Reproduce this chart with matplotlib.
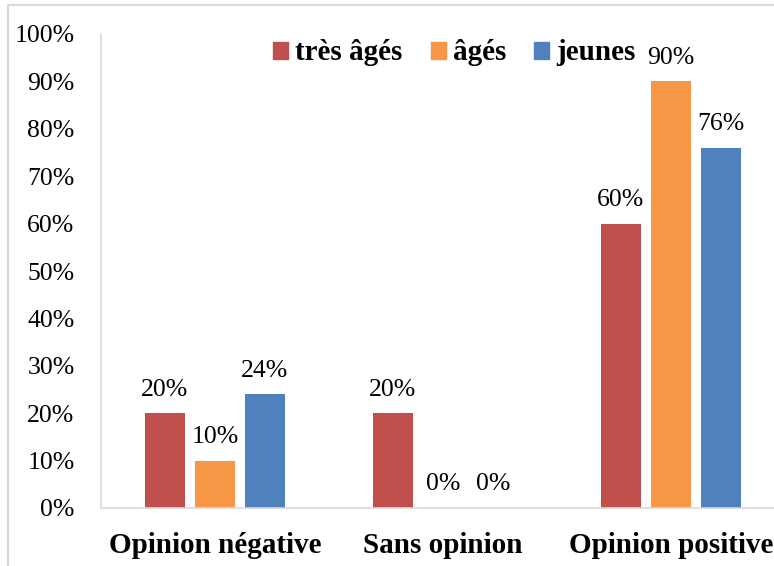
import matplotlib
matplotlib.use("Agg")
import matplotlib.pyplot as plt
import matplotlib.patches as mpatches
import numpy as np

categories = ["Opinion négative", "Sans opinion", "Opinion positive"]
series_names = ["très âgés", "âgés", "jeunes"]
tres_ages = [20, 20, 60]
ages = [10, 0, 90]
jeunes = [24, 0, 76]
series_values = [tres_ages, ages, jeunes]
colors = ["#C0504D", "#F79646", "#4F81BD"]
yticks = [0, 10, 20, 30, 40, 50, 60, 70, 80, 90, 100]
ytick_labels = [f"{v}%" for v in yticks]

plt.rcParams['font.family'] = ['Liberation Serif', 'DejaVu Serif']

W, H = 774, 566
fig = plt.figure(figsize=(W / 100, H / 100), dpi=100)
left_px, right_px, y0_px, y100_px = 101, 774, 508, 34
ax = fig.add_axes([left_px / W, 1 - y0_px / H, (right_px - left_px) / W, (y0_px - y100_px) / H])

cat_w = 228.0
xmax = -0.5 + (right_px - left_px) / cat_w
bar_w = 40 / cat_w
step = 50 / cat_w
x = np.arange(len(categories))

for i, (name, vals, c) in enumerate(zip(series_names, series_values, colors)):
    pos = x + (i - 1) * step
    ax.bar(pos, vals, width=bar_w, color=c, label=name)
    for xp, v in zip(pos, vals):
        ax.annotate(f"{v}%", (xp, v), xytext=(0, 9), textcoords="offset points",
                    ha="center", va="bottom", fontsize=18.5, color="#000000")

ax.set_xlim(-0.5, xmax)
ax.set_ylim(0, 100)
ax.set_yticks(yticks)
ax.set_yticklabels(ytick_labels, fontsize=18.5)
ax.set_xticks(x)
ax.set_xticklabels(categories, fontsize=21, fontweight="bold")
ax.tick_params(axis="y", length=0, pad=19)
ax.tick_params(axis="x", length=0, pad=17)
for s in ["top", "right"]:
    ax.spines[s].set_visible(False)
for s in ["left", "bottom"]:
    ax.spines[s].set_color("#d9d9d9")
    ax.spines[s].set_linewidth(1.2)

handles = [mpatches.Patch(color=c, label=n) for n, c in zip(series_names, colors)]
fig.legend(handles=handles, loc="center left", bbox_to_anchor=(273 / W, 1 - 53 / H),
           bbox_transform=fig.transFigure, ncol=3, frameon=False,
           prop={"size": 21, "weight": "bold"}, handlelength=0.52, handleheight=0.52,
           handletextpad=0.25, columnspacing=0.95, borderpad=0, borderaxespad=0)

fig.patches.append(mpatches.Rectangle((8 / W, -0.1), 1.2, 1.1 - 5 / H, transform=fig.transFigure,
                                      fill=False, edgecolor="#d9d9d9", linewidth=1.5))

fig.savefig("out.png", dpi=100)
